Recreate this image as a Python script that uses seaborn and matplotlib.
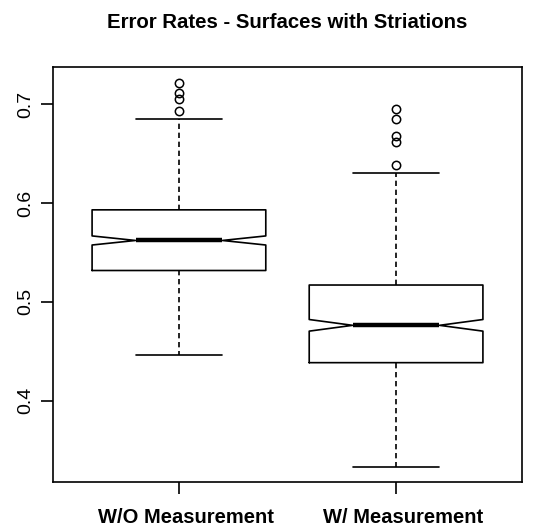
import numpy as np
import pandas as pd
import matplotlib
matplotlib.use("Agg")
import matplotlib.pyplot as plt
import matplotlib.transforms as mtransforms
import seaborn as sns

# ---- values ----
groups = ["W/O Measurement", "W/ Measurement"]
lower_whisker = [0.446, 0.333]
q1 = [0.5318, 0.4385]
median = [0.5622, 0.4763]
q3 = [0.5932, 0.5171]
upper_whisker = [0.6848, 0.630]
outliers = [[0.6935, 0.705, 0.711, 0.722],
            [0.6386, 0.662, 0.668, 0.685, 0.695]]
n_obs = [440, 440]          # estimated from the notch widths
title = "Error Rates - Surfaces with Striations"
yticks = [0.4, 0.5, 0.6, 0.7]

# ---- rebuild observations that reproduce the summary ----
rows = []
for g, lw, a, m, b, uw, out, n in zip(groups, lower_whisker, q1, median, q3,
                                      upper_whisker, outliers, n_obs):
    k = (n - 2 - len(out)) // 3
    km = n - 2 - len(out) - 2 * k
    vals = [lw] + [a] * k + [m] * km + [b] * k + [uw] + list(out)
    rows += [(g, v) for v in vals]
df = pd.DataFrame(rows, columns=["group", "value"])

sns.set_style("white")
plt.rcParams["font.family"] = ["Liberation Sans", "DejaVu Sans"]
plt.rcParams["text.color"] = "black"

fig = plt.figure(figsize=(5.42, 5.29), dpi=100)
ax = fig.add_axes([53 / 542, 1 - 482 / 529, (522 - 53) / 542, (482 - 67) / 529])

sns.boxplot(data=df, x="group", y="value", order=groups, ax=ax,
            fill=False, color="black", linewidth=1.2, width=0.8,
            notch=True, whis=1.5,
            whiskerprops={"linestyle": (0, (3.2, 2.2))},
            medianprops={"linewidth": 3.2},
            flierprops={"marker": "o", "markersize": 6,
                        "markerfacecolor": "none",
                        "markeredgecolor": "black",
                        "markeredgewidth": 1.1})

ax.set_xlim(-0.58, 1.58)
ax.set_ylim(0.3177, 0.7378)
ax.set_yticks(yticks)
ax.set_yticklabels([f"{t:.1f}" for t in yticks], rotation=90, va="center",
                   fontsize=14)
ax.set_xticks([0, 1])
ax.set_xticklabels(groups, fontsize=14.5, fontweight="bold")
ax.set_xlabel("")
ax.set_ylabel("")
for s in ax.spines.values():
    s.set_visible(True)
    s.set_color("black")
    s.set_linewidth(1.2)
ax.tick_params(axis="both", direction="out", length=8.5, width=1.2,
               color="black", labelcolor="black", bottom=True, left=True,
               top=False, right=False)
ax.tick_params(axis="x", pad=10)
ax.tick_params(axis="y", pad=5)

shift = mtransforms.ScaledTranslation(7 / 100, 0, fig.dpi_scale_trans)
for lab in ax.get_xticklabels():
    lab.set_transform(lab.get_transform() + shift)

fig.text((53 + 522) / 2 / 542, 1 - 28 / 529, title, ha="center",
         va="baseline", fontsize=14.7, fontweight="bold", color="black")

fig.savefig("out.png", dpi=100)
